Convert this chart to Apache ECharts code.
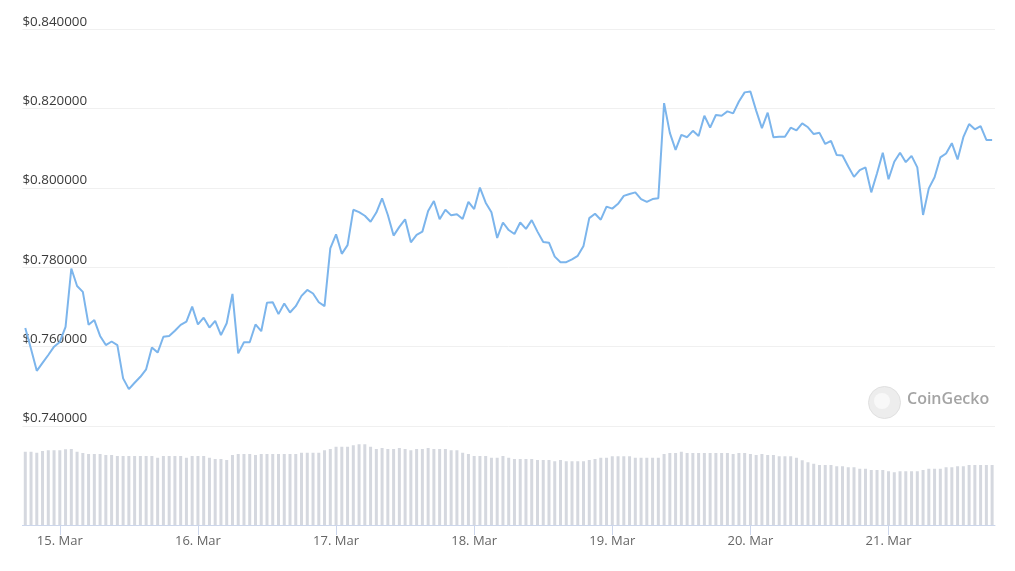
<!DOCTYPE html>
<html>
<head>
<meta charset="utf-8">
<script src="https://cdn.jsdelivr.net/npm/echarts@6/dist/echarts.min.js"></script>
<style>
html,body{margin:0;padding:0;background:#fff;}
#chart{width:1015px;height:571px;}
</style>
</head>
<body>
<div id="chart"></div>
<script>
// Hourly prices (USD), 14 Mar 18:00 -> 21 Mar 18:00
const price = [
0.7647,0.7594,0.7539,0.7559,0.7579,0.7600,0.7612,0.7650,0.7797,0.7753,
0.7738,0.7655,0.7667,0.7627,0.7604,0.7613,0.7604,0.7520,0.7493,0.7509,
0.7524,0.7543,0.7598,0.7585,0.7625,0.7627,0.7640,0.7655,0.7663,0.7701,
0.7656,0.7673,0.7648,0.7665,0.7629,0.7659,0.7733,0.7583,0.7611,0.7611,
0.7656,0.7639,0.7711,0.7712,0.7682,0.7709,0.7686,0.7702,0.7728,0.7743,
0.7734,0.7712,0.7702,0.7848,0.7883,0.7834,0.7856,0.7945,0.7939,0.7930,
0.7915,0.7938,0.7974,0.7932,0.7880,0.7902,0.7921,0.7863,0.7882,0.7890,
0.7942,0.7967,0.7921,0.7945,0.7931,0.7934,0.7922,0.7965,0.7947,0.8001,
0.7963,0.7939,0.7874,0.7913,0.7894,0.7884,0.7913,0.7897,0.7919,0.7890,
0.7864,0.7862,0.7827,0.7813,0.7813,0.7820,0.7829,0.7854,0.7924,0.7935,
0.7920,0.7953,0.7948,0.7960,0.7980,0.7985,0.7989,0.7972,0.7965,0.7972,
0.7974,0.8214,0.8139,0.8096,0.8134,0.8128,0.8144,0.8131,0.8182,0.8152,
0.8184,0.8182,0.8193,0.8188,0.8218,0.8241,0.8243,0.8195,0.8151,0.8190,
0.8128,0.8129,0.8129,0.8152,0.8145,0.8163,0.8153,0.8136,0.8139,0.8111,
0.8119,0.8083,0.8082,0.8054,0.8028,0.8045,0.8052,0.7989,0.8037,0.8089,
0.8022,0.8066,0.8089,0.8065,0.8081,0.8052,0.7932,0.7999,0.8027,0.8077,
0.8087,0.8113,0.8072,0.8128,0.8161,0.8148,0.8156,0.8121,0.8121
];

// Hourly volume (million USD)
const volume = [
293,293,289,296,299,299,299,303,304,293,
288,284,284,284,280,280,276,276,276,276,
276,276,276,269,276,276,276,276,269,276,
276,276,269,264,264,260,280,284,284,284,
280,284,284,284,284,284,284,284,289,289,
289,289,299,304,313,313,313,319,323,323,
313,304,308,304,304,308,304,299,304,304,
308,304,304,304,299,299,289,284,276,276,
276,269,269,276,
269,264,264,264,264,260,260,260,255,260,
255,255,255,255,260,264,269,269,275,275,
275,275,269,269,269,269,269,284,288,288,
293,288,288,288,288,288,288,288,288,284,
288,288,284,280,284,280,280,275,275,275,
269,259,251,245,240,240,240,235,235,231,
231,225,225,220,220,220,215,211,215,215,
215,215,220,225,225,225,231,231,235,235,
240,240,240,240,240
];

const yTicks = [0.74, 0.76, 0.78, 0.80, 0.82, 0.84];
const monthName = 'Mar';

// hourly category labels
const startMs = Date.UTC(2023, 2, 14, 18, 0, 0);
const categories = [];
for (let i = 0; i < price.length; i++) {
  const d = new Date(startMs + i * 3600000);
  const p = n => String(n).padStart(2, '0');
  categories.push(d.getUTCFullYear() + '-' + p(d.getUTCMonth() + 1) + '-' + p(d.getUTCDate()) + ' ' + p(d.getUTCHours()) + ':00');
}
const isMidnight = (idx, val) => String(val).endsWith(' 00:00');

const chart = echarts.init(document.getElementById('chart'), null, {renderer: 'canvas'});
const FONT = '"Open Sans", "Liberation Sans", sans-serif';

chart.setOption({
  animation: false,
  backgroundColor: '#ffffff',
  grid: [
    {left: 22.4, right: 20, top: 29.3, height: 396.7},
    {left: 22.4, right: 20, top: 430, height: 95}
  ],
  xAxis: [
    {
      type: 'category', gridIndex: 0, data: categories, boundaryGap: true,
      axisLine: {show: false}, axisTick: {show: false}, axisLabel: {show: false},
      splitLine: {show: false}
    },
    {
      type: 'category', gridIndex: 1, data: categories, boundaryGap: true,
      axisLine: {show: true, lineStyle: {color: '#ccd6eb', width: 1}},
      axisTick: {show: true, alignWithLabel: true, interval: isMidnight, length: 10, lineStyle: {color: '#ccd6eb'}},
      axisLabel: {
        show: true, interval: isMidnight, margin: 10,
        color: '#666666', fontSize: 13, fontFamily: FONT,
        formatter: v => parseInt(String(v).slice(8, 10), 10) + '. ' + monthName
      },
      splitLine: {show: false}
    }
  ],
  yAxis: [
    {
      type: 'value', gridIndex: 0,
      min: yTicks[0], max: yTicks[yTicks.length - 1], interval: 0.02,
      axisLine: {show: false}, axisTick: {show: false},
      axisLabel: {
        inside: true, margin: 0, align: 'left', verticalAlign: 'bottom',
        padding: [0, 0, 1, 0],
        color: '#3a3a3a', fontSize: 13.4, fontFamily: FONT,
        formatter: v => '$' + Number(v).toFixed(6)
      },
      splitLine: {show: true, lineStyle: {color: '#f0f0f0', width: 1}}
    },
    {
      type: 'value', gridIndex: 1, min: 0, max: 380,
      axisLine: {show: false}, axisTick: {show: false}, axisLabel: {show: false},
      splitLine: {show: false}
    }
  ],
  graphic: [
    {
      type: 'circle', left: 868, top: 386,
      shape: {r: 16},
      style: {fill: '#ededed', stroke: '#e0e0e0', lineWidth: 1},
      z: 1
    },
    {
      type: 'circle', left: 874, top: 393,
      shape: {r: 8},
      style: {fill: '#f8f8f8'},
      z: 2
    },
    {
      type: 'text', left: 907, top: 391,
      style: {text: 'CoinGecko', fill: '#a4a4a4', font: '600 16px ' + FONT},
      z: 2
    }
  ],
  series: [
    {
      name: 'Price', type: 'line', xAxisIndex: 0, yAxisIndex: 0,
      data: price, showSymbol: false, symbol: 'none',
      lineStyle: {color: '#7cb5ec', width: 2},
      z: 5
    },
    {
      name: 'Volume', type: 'bar', xAxisIndex: 1, yAxisIndex: 1,
      data: volume, barWidth: 3,
      itemStyle: {color: '#d5d8df'}
    }
  ]
});
</script>
</body>
</html>
